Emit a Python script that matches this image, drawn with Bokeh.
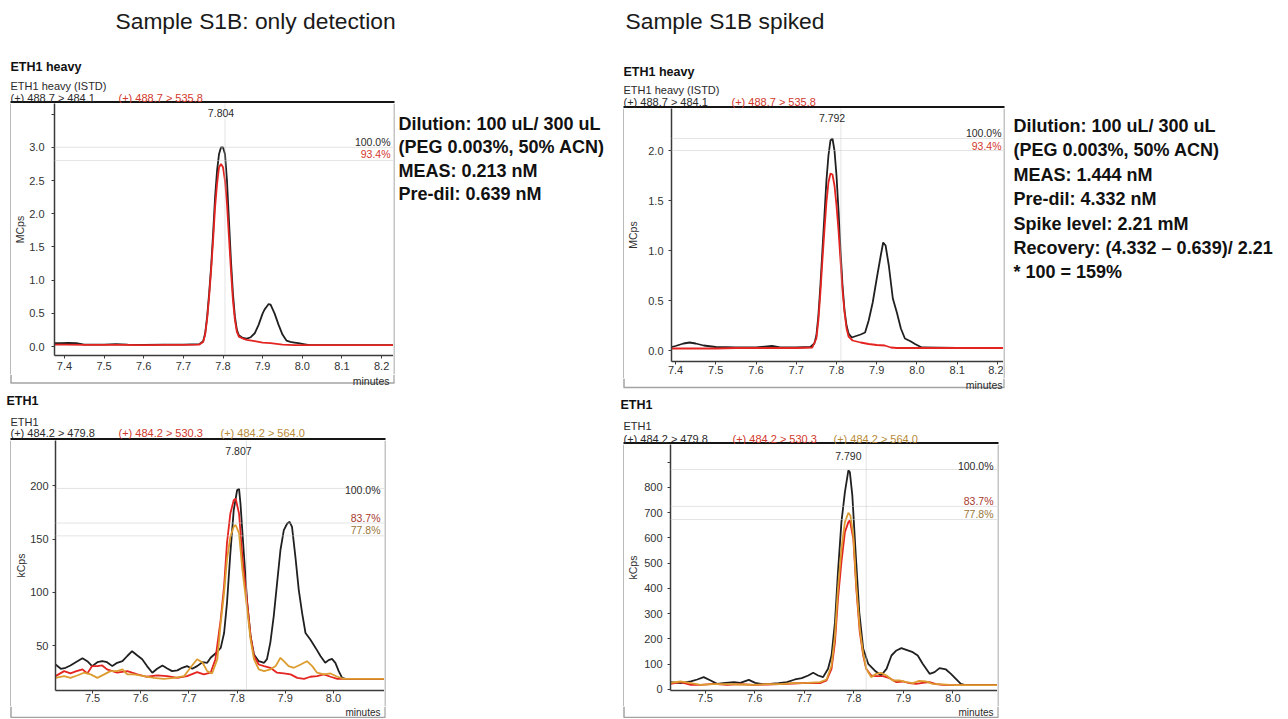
from bokeh.plotting import figure
from bokeh.models import (Range1d, FixedTicker, NumeralTickFormatter, Label, Span)
from bokeh.layouts import row, column
from bokeh.embed import file_html
from bokeh.resources import INLINE

# ---------------- data ----------------
# Panel A: Sample S1B only detection, ETH1 heavy (MCps)
a_black_t = [7.375, 7.39, 7.41, 7.43, 7.45, 7.48, 7.50, 7.53, 7.56, 7.60, 7.65, 7.70, 7.74, 7.750, 7.755,
             7.760, 7.765, 7.770, 7.775, 7.780, 7.785, 7.790, 7.795, 7.800, 7.805, 7.810, 7.815, 7.820,
             7.825, 7.830, 7.835, 7.840, 7.850, 7.860, 7.870, 7.880, 7.890, 7.900, 7.905, 7.910, 7.915,
             7.920, 7.930, 7.940, 7.950, 7.960, 7.970, 7.980, 7.990, 8.000, 8.010, 8.020, 8.100, 8.230]
a_black_v = [0.05, 0.05, 0.055, 0.05, 0.03, 0.03, 0.03, 0.035, 0.03, 0.025, 0.03, 0.03, 0.035, 0.08, 0.2,
             0.45, 0.8, 1.2, 1.7, 2.25, 2.65, 2.9, 3.0, 3.0, 2.9, 2.5, 1.9, 1.3,
             0.8, 0.45, 0.25, 0.17, 0.13, 0.12, 0.14, 0.2, 0.33, 0.5, 0.56, 0.6, 0.64,
             0.63, 0.5, 0.33, 0.18, 0.09, 0.07, 0.06, 0.05, 0.04, 0.03, 0.02, 0.02, 0.02]
a_red_t = [7.375, 7.40, 7.45, 7.50, 7.55, 7.60, 7.65, 7.70, 7.74, 7.750, 7.755, 7.760, 7.765, 7.770,
           7.775, 7.780, 7.785, 7.790, 7.795, 7.800, 7.805, 7.810, 7.815, 7.820, 7.825, 7.830, 7.835,
           7.840, 7.850, 7.860, 7.880, 7.900, 7.920, 7.950, 7.980, 8.000, 8.100, 8.230]
a_red_v = [0.03, 0.03, 0.025, 0.025, 0.025, 0.02, 0.025, 0.025, 0.03, 0.07, 0.18, 0.42, 0.75, 1.15,
           1.6, 2.1, 2.45, 2.7, 2.75, 2.7, 2.5, 2.15, 1.65, 1.15, 0.7, 0.4, 0.22,
           0.15, 0.12, 0.1, 0.08, 0.06, 0.05, 0.03, 0.02, 0.02, 0.02, 0.02]

# Panel B: Sample S1B only detection, ETH1 (kCps)
b_black_t = [7.423, 7.434, 7.444, 7.454, 7.465, 7.479, 7.489, 7.499, 7.510, 7.520, 7.530, 7.541, 7.551,
             7.562, 7.572, 7.582, 7.593, 7.603, 7.613, 7.624, 7.634, 7.645, 7.655, 7.665, 7.676, 7.686,
             7.696, 7.707, 7.717, 7.728, 7.738, 7.745, 7.755, 7.766, 7.773, 7.779, 7.786, 7.793, 7.800,
             7.804, 7.807, 7.814, 7.821, 7.828, 7.835, 7.845, 7.856, 7.862, 7.869, 7.876, 7.883, 7.890,
             7.897, 7.904, 7.909, 7.914, 7.921, 7.928, 7.935, 7.942, 7.952, 7.963, 7.973, 7.983, 7.990,
             7.997, 8.004, 8.011, 8.018, 8.025, 8.106]
b_black_v = [32.2, 28.2, 29.1, 31.3, 34.4, 38.1, 35.3, 30.7, 34.4, 35.3, 34.4, 30.7, 33.8,
             35.3, 40.2, 44.7, 40.7, 37.2, 30.7, 24.5, 28.2, 31.3, 28.5, 26.0, 26.7, 29.1,
             30.7, 28.2, 30.7, 34.4, 33.8, 38.5, 42.5, 47.8, 61.8, 89.9, 136.6, 177.1, 195.8,
             197.3, 183.3, 136.6, 89.9, 58.7, 41.6, 35.3, 33.8, 37.2, 52.8, 77.4, 108.6, 139.7,
             158.4, 164.6, 166.2, 161.5, 133.5, 102.3, 80.5, 61.8, 55.6, 47.8, 40.2, 33.8, 36.3,
             37.5, 33.8, 26.0, 19.7, 18.8, 18.8]
b_red_t = [7.423, 7.441, 7.454, 7.465, 7.479, 7.489, 7.499, 7.510, 7.520, 7.530, 7.541, 7.551, 7.572,
           7.582, 7.593, 7.613, 7.634, 7.655, 7.676, 7.696, 7.717, 7.731, 7.745, 7.755, 7.766, 7.773,
           7.779, 7.786, 7.793, 7.797, 7.804, 7.811, 7.821, 7.828, 7.835, 7.845, 7.856, 7.869, 7.883,
           7.897, 7.911, 7.925, 7.939, 7.952, 7.966, 7.980, 7.994, 8.008, 8.021, 8.106]
b_red_v = [21.3, 26.0, 23.8, 25.7, 27.6, 23.8, 30.7, 30.7, 31.3, 27.6, 26.0, 24.5, 26.0,
           24.5, 22.9, 20.7, 22.0, 21.3, 19.7, 21.3, 25.1, 22.9, 24.5, 37.2, 74.6, 105.8,
           146.3, 174.0, 186.4, 188.0, 174.0, 133.5, 89.9, 58.7, 40.2, 32.2, 30.7, 29.1, 24.5,
           23.8, 22.9, 19.7, 18.8, 20.7, 21.3, 22.9, 20.7, 18.8, 18.8, 18.8]
b_gold_t = [7.423, 7.441, 7.454, 7.468, 7.482, 7.496, 7.510, 7.524, 7.537, 7.551, 7.562, 7.572, 7.586,
            7.607, 7.627, 7.648, 7.669, 7.690, 7.703, 7.717, 7.728, 7.738, 7.748, 7.759, 7.766, 7.773,
            7.779, 7.786, 7.793, 7.797, 7.804, 7.811, 7.821, 7.828, 7.835, 7.845, 7.856, 7.869, 7.880,
            7.890, 7.897, 7.907, 7.918, 7.932, 7.945, 7.956, 7.966, 7.980, 7.994, 8.008, 8.021, 8.106]
b_gold_v = [19.7, 21.3, 19.7, 21.9, 24.5, 22.9, 19.7, 22.9, 26.0, 26.0, 27.6, 22.9, 22.9,
            21.3, 19.7, 18.8, 19.7, 21.3, 29.1, 37.2, 34.1, 26.0, 23.8, 37.2, 71.4, 99.5,
            130.6, 152.2, 161.6, 163.2, 155.4, 121.2, 83.6, 55.6, 37.2, 27.6, 26.0, 27.6, 30.7,
            38.5, 35.3, 30.7, 29.1, 32.2, 35.3, 30.7, 24.5, 22.9, 23.8, 20.7, 18.8, 18.8]

# Panel C: Sample S1B spiked, ETH1 heavy (MCps)
c_black_t = [7.39, 7.40, 7.42, 7.435, 7.45, 7.47, 7.49, 7.50, 7.55, 7.60, 7.64, 7.66, 7.70, 7.735,
             7.745, 7.750, 7.755, 7.760, 7.765, 7.770, 7.775, 7.780, 7.785, 7.790, 7.795, 7.800, 7.805,
             7.810, 7.815, 7.820, 7.825, 7.830, 7.838, 7.845, 7.860, 7.871, 7.880, 7.890, 7.900, 7.910,
             7.916, 7.922, 7.930, 7.940, 7.950, 7.960, 7.970, 7.985, 7.995, 8.012, 8.10, 8.215]
c_black_v = [0.035, 0.045, 0.07, 0.08, 0.07, 0.05, 0.04, 0.035, 0.03, 0.03, 0.045, 0.03, 0.03, 0.035,
             0.07, 0.15, 0.35, 0.65, 1.0, 1.35, 1.7, 1.95, 2.1, 2.12, 2.0, 1.75, 1.4,
             1.0, 0.65, 0.4, 0.25, 0.17, 0.13, 0.14, 0.16, 0.18, 0.3, 0.48, 0.72, 0.95,
             1.08, 1.05, 0.85, 0.52, 0.38, 0.22, 0.12, 0.09, 0.065, 0.03, 0.025, 0.025]
c_red_t = [7.39, 7.45, 7.50, 7.55, 7.60, 7.65, 7.70, 7.740, 7.750, 7.755, 7.760, 7.765, 7.770, 7.775,
           7.780, 7.785, 7.790, 7.795, 7.800, 7.805, 7.810, 7.815, 7.820, 7.825, 7.830, 7.840, 7.860,
           7.880, 7.900, 7.920, 7.935, 7.950, 8.000, 8.10, 8.215]
c_red_v = [0.02, 0.02, 0.02, 0.025, 0.025, 0.025, 0.025, 0.03, 0.12, 0.3, 0.58, 0.9, 1.2, 1.48,
           1.68, 1.77, 1.76, 1.65, 1.45, 1.2, 0.9, 0.6, 0.38, 0.22, 0.14, 0.1, 0.08,
           0.065, 0.055, 0.05, 0.03, 0.025, 0.025, 0.025, 0.025]

# Panel D: Sample S1B spiked, ETH1 (kCps)
d_black_t = [7.430, 7.450, 7.471, 7.484, 7.497, 7.511, 7.524, 7.541, 7.558, 7.571, 7.588, 7.601, 7.615,
             7.631, 7.648, 7.665, 7.681, 7.695, 7.708, 7.718, 7.728, 7.738, 7.748, 7.755, 7.762, 7.768,
             7.775, 7.782, 7.789, 7.792, 7.797, 7.804, 7.811, 7.819, 7.829, 7.842, 7.855, 7.866, 7.876,
             7.886, 7.896, 7.906, 7.919, 7.929, 7.939, 7.953, 7.963, 7.973, 7.986, 7.996, 8.006, 8.016,
             8.023, 8.090]
d_black_v = [29.0, 25.1, 31.7, 39.6, 48.8, 35.6, 22.4, 26.4, 29.0, 26.4, 38.3, 26.4, 21.1,
             22.4, 25.1, 29.0, 39.6, 44.9, 55.4, 66.0, 55.4, 48.8, 81.8, 134.6, 266.7, 464.7,
             662.7, 781.5, 867.3, 860.7, 768.3, 530.7, 306.3, 161.1, 101.7, 75.3, 55.4, 81.8, 134.6,
             154.5, 163.7, 157.1, 147.9, 134.6, 101.7, 62.1, 68.6, 84.5, 79.2, 62.1, 42.2, 22.4,
             18.5, 18.5]
d_red_t = [7.430, 7.450, 7.471, 7.491, 7.517, 7.544, 7.571, 7.598, 7.625, 7.651, 7.678, 7.705, 7.732,
           7.745, 7.755, 7.762, 7.768, 7.775, 7.782, 7.789, 7.792, 7.799, 7.805, 7.812, 7.819, 7.825,
           7.835, 7.845, 7.859, 7.872, 7.886, 7.899, 7.912, 7.926, 7.939, 7.953, 7.966, 7.979, 7.999,
           8.090]
d_red_v = [22.4, 29.0, 18.5, 18.5, 22.4, 18.5, 21.1, 18.5, 19.8, 21.1, 23.8, 26.4, 25.1,
           35.6, 81.8, 187.4, 359.0, 504.3, 623.1, 662.7, 669.3, 596.7, 398.7, 227.1, 134.6, 81.8,
           55.4, 52.8, 52.8, 44.9, 29.0, 31.7, 25.1, 22.4, 26.4, 29.0, 21.1, 18.5, 17.2,
           17.2]
d_gold_t = [7.430, 7.450, 7.471, 7.491, 7.517, 7.544, 7.571, 7.598, 7.625, 7.651, 7.678, 7.705, 7.732,
            7.745, 7.755, 7.762, 7.768, 7.775, 7.782, 7.789, 7.793, 7.799, 7.805, 7.812, 7.819, 7.825,
            7.835, 7.845, 7.855, 7.866, 7.879, 7.892, 7.906, 7.919, 7.932, 7.946, 7.959, 7.973, 7.993,
            8.006, 8.090]
d_gold_v = [26.4, 31.7, 25.1, 18.5, 21.1, 21.1, 19.8, 18.5, 21.1, 21.1, 25.1, 26.4, 29.0,
            39.6, 95.0, 213.9, 398.7, 557.1, 662.7, 699.6, 689.0, 609.8, 411.9, 240.3, 141.2, 81.8,
            48.8, 62.1, 66.0, 55.4, 35.6, 35.6, 29.0, 25.1, 34.3, 31.7, 22.4, 21.1, 18.5,
            17.2, 17.2]

# Annotation values
titles = ["Sample S1B: only detection", "Sample S1B spiked"]
rt_labels = ["7.804", "7.807", "7.792", "7.790"]
rt_lines = [7.805, 7.8195, 7.811, 7.825]
a_pct_levels = [3.0, 2.80]
b_pct_levels = [197.5, 165.0, 153.0]
c_pct_levels = [2.12, 2.00]
d_pct_levels = [871.0, 725.0, 673.0]
heavy_pct = ["100.0%", "93.4%"]
light_pct = ["100.0%", "83.7%", "77.8%"]
heavy_trans = ["(+) 488.7 > 484.1", "(+) 488.7 > 535.8"]
light_trans = ["(+) 484.2 > 479.8", "(+) 484.2 > 530.3", "(+) 484.2 > 564.0"]
text_left = ["Dilution: 100 uL/ 300 uL", "(PEG 0.003%, 50% ACN)", "MEAS: 0.213 nM", "Pre-dil: 0.639 nM"]
text_right = ["Dilution: 100 uL/ 300 uL", "(PEG 0.003%, 50% ACN)", "MEAS: 1.444 nM", "Pre-dil: 4.332 nM",
              "Spike level:  2.21 mM", "Recovery: (4.332 \u2013 0.639)/ 2.21", "* 100 = 159%"]

# ---------------- styling ----------------
FONT = "Liberation Sans"
BLACK = "#202020"
RED = "#e42420"
GOLD = "#dc9c30"
LRED = "#d2382c"
LGOLD = "#b88a38"
BOXGRAY = "#a3a3a3"
EDGE = "#8c8c8c"


def add_label(p, x, y, text, size="10.5px", color="#2a2a2a", align="left", baseline="middle",
              bold=False, font=FONT):
    p.add_layout(Label(x=x, y=y, text=text, text_font=font, text_font_size=size,
                       text_color=color, text_align=align, text_baseline=baseline,
                       text_font_style="bold" if bold else "normal"))


def canvas(x0, y0, w, h):
    """Plain drawing area whose data coordinates equal page pixels."""
    p = figure(width=w, height=h, x_range=Range1d(x0, x0 + w), y_range=Range1d(y0 + h, y0),
               output_backend="svg", toolbar_location=None, min_border=0, frame_align=False,
               x_axis_type=None, y_axis_type=None, title=None)
    p.outline_line_color = None
    p.background_fill_color = "white"
    p.border_fill_color = "white"
    return p


def chart(box, frame, xr, yr, xticks, yticks, yfmt, ylabel, ystand, ylab_stand, xlab_stand, hidden=None):
    cl, ct, W, H = box
    fl, fr, ft, fb = frame
    p = figure(width=W, height=H, x_range=Range1d(*xr), y_range=Range1d(*yr),
               output_backend="svg", toolbar_location=None, frame_align=False, title=None,
               min_border_left=fl - cl, min_border_right=cl + W - fr,
               min_border_top=ft - ct, min_border_bottom=ct + H - fb)
    p.grid.visible = False
    p.outline_line_color = None
    p.background_fill_color = "white"
    p.border_fill_color = "white"
    xa = p.xaxis[0]
    xa.ticker = FixedTicker(ticks=xticks)
    xa.formatter = NumeralTickFormatter(format="0.0")
    xa.major_label_standoff = xlab_stand
    ya = p.yaxis[0]
    ya.ticker = FixedTicker(ticks=yticks)
    ya.formatter = NumeralTickFormatter(format=yfmt)
    ya.major_label_standoff = ylab_stand
    if hidden:
        ya.major_label_overrides = hidden
    ya.axis_label = ylabel
    ya.axis_label_standoff = ystand
    ya.axis_label_text_font_size = "10.5px"
    ya.axis_label_text_font_style = "normal"
    ya.axis_label_text_font = FONT
    ya.axis_label_text_color = "#333333"
    for ax in (xa, ya):
        ax.axis_line_color = "#3a3a3a"
        ax.axis_line_width = 1.5
        ax.major_tick_line_color = "#3a3a3a"
        ax.major_tick_in = 0
        ax.major_tick_out = 3
        ax.minor_tick_line_color = None
        ax.major_label_text_font = FONT
        ax.major_label_text_font_size = "11px"
        ax.major_label_text_color = "#333333"

    def X(px):
        return xr[0] + (px - fl) / (fr - fl) * (xr[1] - xr[0])

    def Y(py):
        return yr[1] - (py - ft) / (fb - ft) * (yr[1] - yr[0])
    return p, X, Y


def hspans(p, levels):
    for v in levels:
        p.add_layout(Span(location=v, dimension="width", line_color="#c8c8c8",
                          line_width=1, line_dash="1 1"))


def vspan(p, t):
    p.add_layout(Span(location=t, dimension="height", line_color="#c8c8c8",
                      line_width=1, line_dash="1 1"))


def header(p, x, y_bold, y_name, y_trans, bold_text, name_text, trans, trans_x, trans_colors):
    add_label(p, x[0], y_bold, bold_text, size="12.5px", bold=True, color="#111111")
    add_label(p, x[1], y_name, name_text, size="11px")
    for tx, tt, tc in zip(trans_x, trans, trans_colors):
        add_label(p, tx, y_trans, tt, size="11px", color=tc)


def footer(p, x_left, x_right, y_line, x_min, y_min, y_top, size="10.5px"):
    p.line([x_left + 0.5, x_left + 0.5], [y_top, y_line], line_color=BOXGRAY, line_width=1.5)
    p.line([x_right + 0.5, x_right + 0.5], [y_top, y_line], line_color=EDGE, line_width=1)
    p.line([x_left, x_right + 1], [y_line, y_line], line_color=BOXGRAY, line_width=1.3)
    add_label(p, x_min, y_min, "minutes", size=size, align="right", baseline="middle")


# =============== top-left quadrant (x 0..610, y 0..392) ===============
tA = canvas(0, 0, 610, 103)
add_label(tA, 115, 20.5, titles[0], size="22.8px", color="#1a1a1a")
header(tA, (10, 10), 66.5, 85, 97, "ETH1 heavy", "ETH1 heavy (ISTD)", heavy_trans, [10, 118],
       ["#2a2a2a", LRED])
tA.line([10, 394], [101.8, 101.8], line_color="#151515", line_width=2.4)

lA = canvas(0, 103, 11, 271)
lA.line([10.5, 10.5], [103, 374], line_color=BOXGRAY, line_width=1.5)

cA, XA, YA = chart((11, 103, 382, 271), (53, 393, 103, 355), (7.375, 8.230), (-0.135, 3.66),
                   [7.4, 7.5, 7.6, 7.7, 7.8, 7.9, 8.0, 8.1, 8.2],
                   [0.0, 0.5, 1.0, 1.5, 2.0, 2.5, 3.0, 3.5], "0.0", "MCps", 0, 7, 3, {3.5: ""})
hspans(cA, a_pct_levels)
vspan(cA, rt_lines[0])
cA.line(a_black_t, a_black_v, line_color=BLACK, line_width=1.8)
cA.line(a_red_t, a_red_v, line_color=RED, line_width=1.8)
add_label(cA, XA(220), YA(112.5), rt_labels[0], align="center")
add_label(cA, XA(390), YA(141), heavy_pct[0], align="right")
add_label(cA, XA(390), YA(153.5), heavy_pct[1], align="right", color=LRED)

rA = canvas(393, 103, 217, 271)
rA.line([393.5, 393.5], [103, 374], line_color=EDGE, line_width=1)
for i, s in enumerate(text_left):
    add_label(rA, 398, 123.5 + 23.4 * i, s, size="18px", bold=True, color="#111111")

bA = canvas(0, 374, 610, 18)
footer(bA, 10, 393, 382.5, 389, 380, 374)

quadA = column(tA, row(lA, cA, rA), bA)

# =============== top-right quadrant (x 610..1286, y 0..392) ===============
tC = canvas(610, 0, 676, 108)
add_label(tC, 625, 20.5, titles[1], size="22.8px", color="#1a1a1a")
header(tC, (623, 623), 71, 89, 101, "ETH1 heavy", "ETH1 heavy (ISTD)", heavy_trans, [623, 731],
       ["#2a2a2a", LRED])
tC.line([623, 1004], [106.8, 106.8], line_color="#151515", line_width=2.4)

lC = canvas(610, 108, 14, 270)
lC.line([623.5, 623.5], [108, 378], line_color=BOXGRAY, line_width=1.5)

cC, XC, YC = chart((624, 108, 379, 270), (668, 1003, 108, 361), (7.39, 8.215), (-0.11, 2.42),
                   [7.4, 7.5, 7.6, 7.7, 7.8, 7.9, 8.0, 8.1, 8.2],
                   [0.0, 0.5, 1.0, 1.5, 2.0], "0.0", "MCps", 6, 5, 1)
hspans(cC, c_pct_levels)
vspan(cC, rt_lines[2])
cC.line(c_black_t, c_black_v, line_color=BLACK, line_width=1.8)
cC.line(c_red_t, c_red_v, line_color=RED, line_width=1.8)
add_label(cC, XC(830), YC(117.5), rt_labels[2], align="center")
add_label(cC, XC(1001), YC(132), heavy_pct[0], align="right")
add_label(cC, XC(1001), YC(145.5), heavy_pct[1], align="right", color=LRED)

rC = canvas(1003, 108, 283, 270)
rC.line([1003.5, 1003.5], [108, 378], line_color=EDGE, line_width=1)
for i, s in enumerate(text_right):
    add_label(rC, 1013, 125.5 + 24.4 * i, s, size="18px", bold=True, color="#111111")

bC = canvas(610, 378, 676, 14)
footer(bC, 623, 1003, 387, 1002, 384, 378)

quadC = column(tC, row(lC, cC, rC), bC)

# =============== bottom-left quadrant (x 0..610, y 392..718) ===============
tB = canvas(0, 392, 610, 48)
header(tB, (6, 10), 400, 421, 432, "ETH1", "ETH1", light_trans, [10, 118, 220],
       ["#2a2a2a", LRED, LGOLD])
tB.line([10, 385], [438.8, 438.8], line_color="#151515", line_width=2.4)

lB = canvas(0, 440, 11, 266)
lB.line([10.5, 10.5], [440, 706], line_color=BOXGRAY, line_width=1.5)

cB, XB, YB = chart((11, 440, 373, 266), (55, 384, 440, 690), (7.423, 8.106), (7.8, 242.5),
                   [7.5, 7.6, 7.7, 7.8, 7.9, 8.0],
                   [50, 100, 150, 200], "0", "kCps", 0, 4, 0)
hspans(cB, b_pct_levels)
vspan(cB, rt_lines[1])
cB.line(b_black_t, b_black_v, line_color=BLACK, line_width=1.8)
cB.line(b_red_t, b_red_v, line_color=RED, line_width=1.8)
cB.line(b_gold_t, b_gold_v, line_color=GOLD, line_width=1.8)
add_label(cB, XB(238), YB(450), rt_labels[1], align="center")
add_label(cB, XB(380), YB(489), light_pct[0], align="right")
add_label(cB, XB(380), YB(517.5), light_pct[1], align="right", color="#a8392d")
add_label(cB, XB(380), YB(529), light_pct[2], align="right", color="#9a7638")

rB = canvas(384, 440, 226, 266)
rB.line([384.5, 384.5], [440, 706], line_color=EDGE, line_width=1)

bB = canvas(0, 706, 610, 12)
footer(bB, 10, 384, 716.8, 380, 712, 706, size="10px")

quadB = column(tB, row(lB, cB, rB), bB)

# =============== bottom-right quadrant (x 610..1286, y 392..718) ===============
tD = canvas(610, 392, 676, 52)
header(tD, (620, 623), 404, 425, 438, "ETH1", "ETH1", light_trans, [623, 732, 833],
       ["#2a2a2a", LRED, LGOLD])
tD.line([623, 998], [442.8, 442.8], line_color="#151515", line_width=2.4)

lD = canvas(610, 444, 14, 262)
lD.line([623.5, 623.5], [444, 706], line_color=BOXGRAY, line_width=1.5)

cD, XD, YD = chart((624, 444, 373, 262), (668, 997, 444, 690), (7.43, 8.09), (-4.0, 970.0),
                   [7.5, 7.6, 7.7, 7.8, 7.9, 8.0],
                   [0, 100, 200, 300, 400, 500, 600, 700, 800, 900], "0", "kCps", 2, 5, 0, {900: ""})
hspans(cD, d_pct_levels)
vspan(cD, rt_lines[3])
cD.line(d_black_t, d_black_v, line_color=BLACK, line_width=1.8)
cD.line(d_red_t, d_red_v, line_color=RED, line_width=1.8)
cD.line(d_gold_t, d_gold_v, line_color=GOLD, line_width=1.8)
add_label(cD, XD(847), YD(455), rt_labels[3], align="center")
add_label(cD, XD(993), YD(465), light_pct[0], align="right")
add_label(cD, XD(993), YD(500), light_pct[1], align="right", color="#a8392d")
add_label(cD, XD(993), YD(513), light_pct[2], align="right", color="#9a7638")

rD = canvas(997, 444, 289, 262)
rD.line([997.5, 997.5], [444, 706], line_color=EDGE, line_width=1)

bD = canvas(610, 706, 676, 12)
footer(bD, 623, 997, 716.8, 993, 712, 706, size="10px")

quadD = column(tD, row(lD, cD, rD), bD)

layout = column(row(quadA, quadC), row(quadB, quadD))
open("out.html", "w").write(file_html(layout, INLINE))
